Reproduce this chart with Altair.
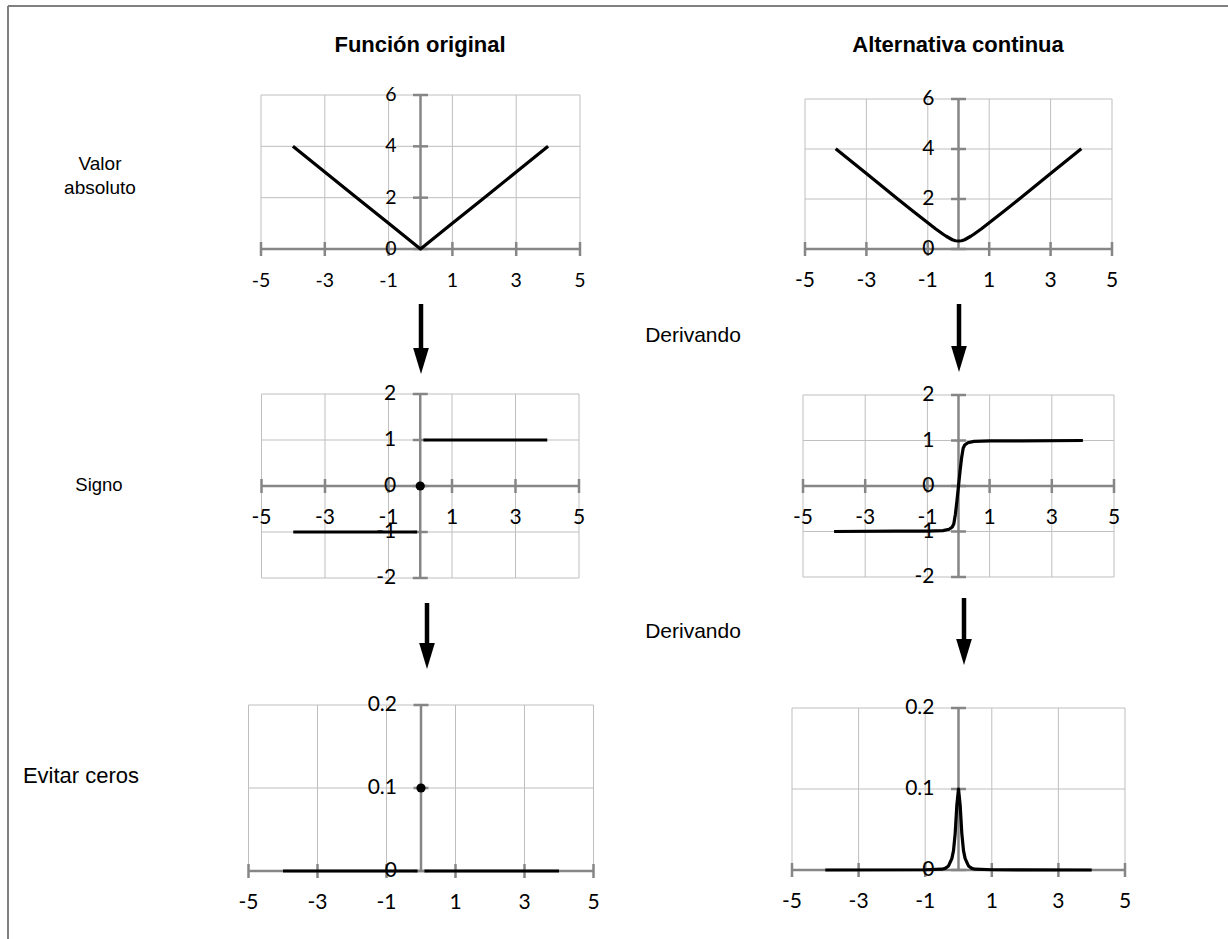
import altair as alt
import pandas as pd

# ---------------- values ----------------
X_TICKS = [-5, -3, -1, 1, 3, 5]

ABS_TICKS = [0, 2, 4, 6]
SIGN_TICKS = [-2, -1, 0, 1, 2]
ZERO_TICKS = [0, 0.1, 0.2]
ZERO_TICK_LABELS = ["0", "0.1", "0.2"]

# |x|
abs_x = [-4, -3, -2, -1, 0, 1, 2, 3, 4]
abs_y = [4, 3, 2, 1, 0, 1, 2, 3, 4]

# smooth |x|
sabs_x = [-4, -3, -2, -1.5, -1, -0.75, -0.5, -0.4, -0.3, -0.2, -0.1, 0,
          0.1, 0.2, 0.3, 0.4, 0.5, 0.75, 1, 1.5, 2, 3, 4]
sabs_y = [4.01, 3.02, 2.02, 1.53, 1.05, 0.81, 0.59, 0.51, 0.44, 0.37, 0.33, 0.32,
          0.33, 0.37, 0.44, 0.51, 0.59, 0.81, 1.05, 1.53, 2.02, 3.02, 4.01]

# sign(x): two pieces and the value at zero
sign_neg_x = [-4, -0.1]
sign_neg_y = [-1, -1]
sign_pos_x = [0.1, 4]
sign_pos_y = [1, 1]
sign_dot = (0, 0)

# smooth sign
ssign_x = [-4, -2, -1, -0.5, -0.3, -0.2, -0.15, -0.1, -0.05, 0,
           0.05, 0.1, 0.15, 0.2, 0.3, 0.5, 1, 2, 4]
ssign_y = [-1.0, -0.99, -0.99, -0.98, -0.95, -0.90, -0.83, -0.62, -0.33, 0,
           0.33, 0.62, 0.83, 0.90, 0.95, 0.98, 0.99, 0.99, 1.0]

# derivative of sign: zero everywhere, 0.1 at the origin
zero_neg_x = [-4, -0.1]
zero_neg_y = [0, 0]
zero_pos_x = [0.1, 4]
zero_pos_y = [0, 0]
zero_dot = (0, 0.1)

# smooth spike
spike_x = [-4, -1, -0.5, -0.4, -0.3, -0.2, -0.15, -0.1, -0.05, 0,
           0.05, 0.1, 0.15, 0.2, 0.3, 0.4, 0.5, 1, 4]
spike_y = [0, 0.0003, 0.001, 0.002, 0.005, 0.014, 0.024, 0.045, 0.08, 0.1,
           0.08, 0.045, 0.024, 0.014, 0.005, 0.002, 0.001, 0.0003, 0]

COL_TITLES = ["Función original", "Alternativa continua"]
ROW_TITLES = ["Valor\nabsoluto", "Signo", "Evitar ceros"]
STEP_LABEL = "Derivando"

# ---------------- styles ----------------
GRID = "#bfbfbf"
AXIS = "#868686"
TICK_FONT = "Lato"
TEXT_FONT = "Liberation Sans"


def curve_frame(*pieces):
    rows = []
    for k, (xs, ys) in enumerate(pieces):
        for x, y in zip(xs, ys):
            rows.append({"x": x, "y": y, "seg": k})
    return pd.DataFrame(rows)


def panel(xrange, ydom, yrange, yticks, ylabels, pieces, dot=None, fs=21):
    xs = alt.Scale(domain=[-5, 5], range=xrange, nice=False, zero=False)
    ys = alt.Scale(domain=ydom, range=yrange, nice=False, zero=False)

    def X(f):
        return alt.X(f, type="quantitative", scale=xs, axis=None)

    def Y(f):
        return alt.Y(f, type="quantitative", scale=ys, axis=None)

    vgrid = pd.DataFrame({"gx": X_TICKS, "lo": ydom[0], "hi": ydom[1]})
    hgrid = pd.DataFrame({"gy": yticks, "lo": -5, "hi": 5})
    xaxis = pd.DataFrame({"lo": [-5], "hi": [5], "y": [0]})
    yaxis = pd.DataFrame({"x": [0], "lo": [ydom[0]], "hi": [ydom[1]]})
    xt = pd.DataFrame({"x": X_TICKS, "y": 0, "t": [str(v) for v in X_TICKS]})
    yt = pd.DataFrame({"x": 0, "y": yticks, "t": ylabels})

    layers = [
        alt.Chart(vgrid).mark_rule(color=GRID, strokeWidth=1).encode(
            x=X("gx"), y=Y("lo"), y2="hi:Q"),
        alt.Chart(hgrid).mark_rule(color=GRID, strokeWidth=1).encode(
            y=Y("gy"), x=X("lo"), x2="hi:Q"),
        alt.Chart(xaxis).mark_rule(color=AXIS, strokeWidth=2.5).encode(
            y=Y("y"), x=X("lo"), x2="hi:Q"),
        alt.Chart(yaxis).mark_rule(color=AXIS, strokeWidth=2.5).encode(
            x=X("x"), y=Y("lo"), y2="hi:Q"),
        alt.Chart(yt).mark_tick(color=AXIS, orient="horizontal", size=15,
                                thickness=2.5, opacity=1).encode(x=X("x"), y=Y("y")),
        alt.Chart(xt).mark_tick(color=AXIS, orient="vertical", size=14,
                                thickness=2.5, opacity=1).encode(x=X("x"), y=Y("y")),
        alt.Chart(curve_frame(*pieces)).mark_line(
            color="black", strokeWidth=3.2, strokeJoin="round").encode(
            x=X("x"), y=Y("y"), detail="seg:N", order="idx:Q"
        ).transform_window(idx="row_number()", groupby=["seg"]),
    ]
    if dot is not None:
        layers.append(
            alt.Chart(pd.DataFrame({"x": [dot[0]], "y": [dot[1]]})).mark_circle(
                color="black", size=85, opacity=1).encode(x=X("x"), y=Y("y")))
    layers += [
        alt.Chart(xt).mark_text(font=TICK_FONT, fontSize=fs, dy=32,
                                color="black").encode(x=X("x"), y=Y("y"), text="t:N"),
        alt.Chart(yt).mark_text(font=TICK_FONT, fontSize=fs, dx=-24, align="right",
                                color="black").encode(x=X("x"), y=Y("y"), text="t:N"),
    ]
    return layers


layers = []
layers += panel([261, 580], [0, 6], [249, 95], ABS_TICKS,
                [str(v) for v in ABS_TICKS], [(abs_x, abs_y)], fs=19.5)
layers += panel([805, 1112], [0, 6], [249, 99], ABS_TICKS,
                [str(v) for v in ABS_TICKS], [(sabs_x, sabs_y)])
layers += panel([261.5, 579], [-2, 2], [578, 394], SIGN_TICKS,
                [str(v) for v in SIGN_TICKS],
                [(sign_neg_x, sign_neg_y), (sign_pos_x, sign_pos_y)], dot=sign_dot)
layers += panel([803, 1114], [-2, 2], [577, 395], SIGN_TICKS,
                [str(v) for v in SIGN_TICKS], [(ssign_x, ssign_y)])
layers += panel([248.5, 593.5], [0, 0.2], [871, 705], ZERO_TICKS, ZERO_TICK_LABELS,
                [(zero_neg_x, zero_neg_y), (zero_pos_x, zero_pos_y)], dot=zero_dot)
layers += panel([792, 1125], [0, 0.2], [870, 708], ZERO_TICKS, ZERO_TICK_LABELS,
                [(spike_x, spike_y)])


def label(text, x, y, size=19, weight="normal"):
    return alt.Chart(pd.DataFrame({"t": [text]})).mark_text(
        font=TEXT_FONT, fontSize=size, fontWeight=weight, color="black",
        align="center", baseline="middle", lineBreak="\n", lineHeight=24,
    ).encode(x=alt.value(x), y=alt.value(y), text="t:N")


layers += [
    label(COL_TITLES[0], 420, 45, 22, "bold"),
    label(COL_TITLES[1], 958, 45, 22, "bold"),
    label(ROW_TITLES[0], 100, 164, 19),
    label(ROW_TITLES[1], 99, 485, 18.5),
    label(ROW_TITLES[2], 81, 776, 22),
    label(STEP_LABEL, 693, 336, 21),
    label(STEP_LABEL, 693, 632, 21),
]

# arrows between the rows: shaft + head
HEAD = "M-1,-1.65L1,-1.65L0,1.65Z"
ARROWS = [(421, 304, 374), (959, 304, 372), (427, 603, 669), (964, 598, 665)]
one = pd.DataFrame({"k": [0]})
for ax, top, tip in ARROWS:
    base = tip - 26
    layers.append(alt.Chart(one).mark_rule(color="black", strokeWidth=4.5).encode(
        x=alt.value(ax), y=alt.value(top), y2=alt.value(base + 2)))
    layers.append(alt.Chart(one).mark_point(
        shape=HEAD, filled=True, size=246, color="black", opacity=1, strokeWidth=0
    ).encode(x=alt.value(ax), y=alt.value((base + tip) / 2)))

# outer frame (left and top edges)
layers.append(alt.Chart(one).mark_rule(color="#808080", strokeWidth=2).encode(
    x=alt.value(8), y=alt.value(6), y2=alt.value(939)))
layers.append(alt.Chart(one).mark_rule(color="#808080", strokeWidth=2).encode(
    x=alt.value(8), x2=alt.value(1228), y=alt.value(6)))

chart = alt.layer(*layers).resolve_scale(
    x="independent", y="independent"
).properties(
    width=1228, height=939, padding=0, autosize="none", background="white"
).configure_view(stroke=None)

chart.save("out.html", embed_options={"renderer": "svg", "actions": False})
